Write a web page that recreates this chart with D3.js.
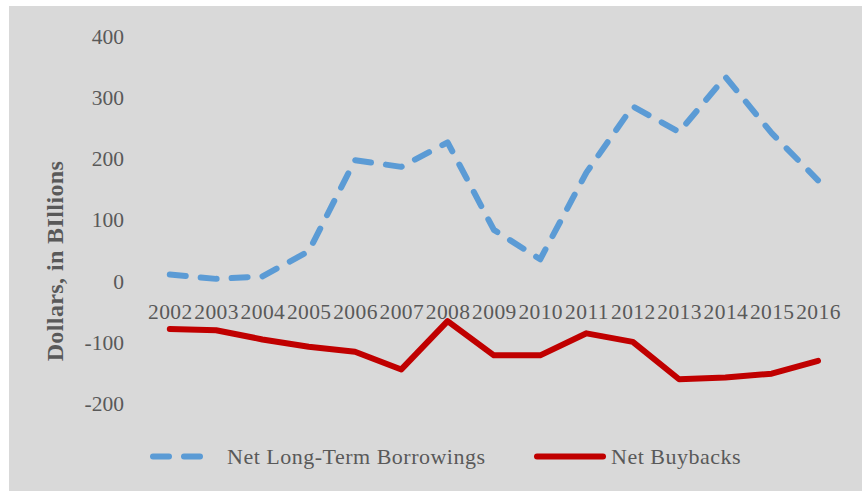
<!DOCTYPE html>
<html><head><meta charset="utf-8">
<script src="https://cdn.jsdelivr.net/npm/d3@7"></script>
<style>body{margin:0;background:#fff}svg{display:block}</style>
</head><body><svg id="c" width="862" height="491"></svg>
<script>
const years = ["2002","2003","2004","2005","2006","2007","2008","2009","2010","2011","2012","2013","2014","2015","2016"];
const borrowings = [10, 3, 7, 48, 197, 186, 226, 83, 35, 177, 285, 243, 333, 241, 164];
const buybacks = [-79, -81, -96, -108, -116, -145, -66, -122, -122, -86, -100, -161, -158, -152, -131];
const yTicks = [400, 300, 200, 100, 0, -100, -200];
const seriesNames = ["Net Long-Term Borrowings", "Net Buybacks"];

const svg = d3.select("#c");
const font = "'Liberation Serif', 'Times New Roman', serif";
const txt = "#595959";

svg.append("rect").attr("x", 9).attr("y", 6).attr("width", 853).attr("height", 485).attr("fill", "#d9d9d9");

const x = d3.scalePoint().domain(years).range([169.8, 818]);
const y = d3.scaleLinear().domain([-200, 400]).range([403.1, 35.9]);

// y axis labels
const yAxis = d3.axisLeft(y).tickValues(yTicks).tickSize(0).tickPadding(0).tickFormat(d => String(d));
const ga = svg.append("g").attr("transform", "translate(124,0)").call(yAxis);
ga.select(".domain").remove();
ga.selectAll("text").attr("font-family", font).attr("font-size", 21.5).attr("fill", txt).attr("dy", "0.34em");

// x axis labels
const xAxis = d3.axisBottom(x).tickSize(0).tickPadding(0);
const gx = svg.append("g").attr("transform", `translate(0,${y(0)})`).call(xAxis);
gx.select(".domain").remove();
gx.selectAll("text").attr("font-family", font).attr("font-size", 21.5).attr("fill", txt).attr("dy", "0").attr("y", 38.5).attr("letter-spacing", "0.4px");

// y title
svg.append("text").attr("transform", "translate(63,261) rotate(-90)")
  .attr("text-anchor", "middle").attr("font-family", font).attr("font-size", 24).attr("font-weight", "bold")
  .attr("letter-spacing", "0.4px").attr("fill", txt).text("Dollars, in BIllions");

const line = d3.line().x((d, i) => x(years[i])).y(d => y(d));

svg.append("path").datum(borrowings).attr("d", line).attr("fill", "none")
  .attr("stroke", "#5b9bd5").attr("stroke-width", 6).attr("stroke-linecap", "round").attr("stroke-linejoin", "round")
  .attr("stroke-dasharray", "16,15");

svg.append("path").datum(buybacks).attr("d", line).attr("fill", "none")
  .attr("stroke", "#c00000").attr("stroke-width", 6).attr("stroke-linecap", "round").attr("stroke-linejoin", "round");

// legend
const leg = [
  {name: seriesNames[0], x1: 153, x2: 211, tx: 227, color: "#5b9bd5", dash: "16,15"},
  {name: seriesNames[1], x1: 537, x2: 603, tx: 611, color: "#c00000", dash: null}
];
const ly = 456.5;
leg.forEach(l => {
  const p = svg.append("line").attr("x1", l.x1).attr("x2", l.x2).attr("y1", ly).attr("y2", ly)
    .attr("stroke", l.color).attr("stroke-width", 6).attr("stroke-linecap", "round");
  if (l.dash) p.attr("stroke-dasharray", l.dash);
  svg.append("text").attr("x", l.tx).attr("y", ly).attr("dy", "0.34em")
    .attr("font-family", font).attr("font-size", 22).attr("letter-spacing", "0.5px").attr("fill", txt).text(l.name);
});
</script></body></html>
